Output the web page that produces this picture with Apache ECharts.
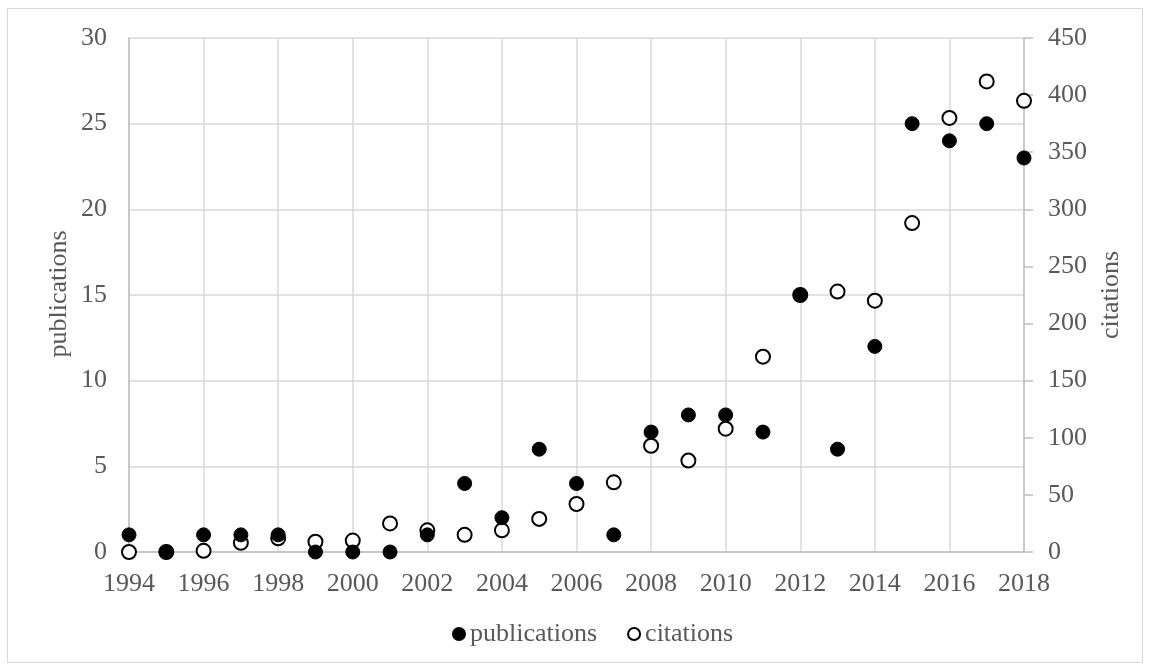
<!DOCTYPE html>
<html>
<head>
<meta charset="utf-8">
<script src="https://cdn.jsdelivr.net/npm/echarts@6/dist/echarts.min.js"></script>
<style>
  html, body { margin: 0; padding: 0; background: #fff; }
  #frame { position: absolute; left: 7px; top: 8px; width: 1136px; height: 655px; border: 1px solid #d9d9d9; box-sizing: border-box; }
  #chart { width: 1151px; height: 671px; }
</style>
</head>
<body>
<div id="frame"></div>
<div id="chart"></div>
<script>
// ===== Data =====
const years = [1994,1995,1996,1997,1998,1999,2000,2001,2002,2003,2004,2005,2006,
               2007,2008,2009,2010,2011,2012,2013,2014,2015,2016,2017,2018];
const publications = [1,0,1,1,1,0,0,0,1,4,2,6,4,1,7,8,8,7,15,6,12,25,24,25,23];
const citations    = [0,0,1,8,12,9,10,25,19,15,19,29,42,61,93,80,108,171,225,228,220,288,380,412,395];

const pairs = (vals) => years.map((y, i) => [y, vals[i]]);

const font = 'Liberation Serif, Times New Roman, serif';
const grey = '#595959';
const fs = 26;

// ===== Chart =====
const chart = echarts.init(document.getElementById('chart'), null, { renderer: 'canvas' });

chart.setOption({
  animation: false,
  textStyle: { fontFamily: font, color: grey },
  grid: { left: 129, right: 127, top: 38, bottom: 119 },
  legend: {
    bottom: 19,
    left: 447,
    itemWidth: 12,
    itemHeight: 12,
    itemGap: 30,
    textStyle: { fontFamily: font, fontSize: fs, color: grey },
    data: ['publications', 'citations']
  },
  // left axis title placed by hand
  graphic: [{
    type: 'text',
    x: 59, y: 294,
    rotation: Math.PI / 2,
    style: { text: 'publications', font: fs + 'px ' + font, fill: grey, align: 'center', verticalAlign: 'middle' }
  }],
  xAxis: {
    type: 'value',
    min: 1994, max: 2018, interval: 2,
    axisLine: { lineStyle: { color: '#bfbfbf', width: 1.5 } },
    axisTick: { show: false },
    axisLabel: { fontSize: fs, color: grey, margin: 19, fontFamily: font, formatter: v => String(v) },
    splitLine: { lineStyle: { color: '#d9d9d9', width: 1.5 } }
  },
  yAxis: [
    {
      type: 'value',
      min: 0, max: 30, interval: 5,
      axisLine: { show: true, lineStyle: { color: '#bfbfbf', width: 1.5 } },
      axisTick: { show: false },
      axisLabel: { fontSize: fs, color: grey, margin: 22, fontFamily: font },
      splitLine: { lineStyle: { color: '#d9d9d9', width: 1.5 } }
    },
    {
      type: 'value',
      name: 'citations',
      nameLocation: 'middle',
      nameGap: 74,
      nameTextStyle: { fontSize: fs, color: grey, fontFamily: font },
      min: 0, max: 450, interval: 50,
      axisLine: { show: true, lineStyle: { color: '#bfbfbf', width: 1.5 } },
      axisTick: { show: true, length: 9, lineStyle: { color: '#bfbfbf', width: 1.5 } },
      axisLabel: { fontSize: fs, color: grey, margin: 24, fontFamily: font },
      splitLine: { show: false }
    }
  ],
  series: [
    {
      name: 'citations',
      type: 'scatter',
      yAxisIndex: 1,
      symbol: 'circle',
      symbolSize: 14,
      z: 2,
      itemStyle: { color: '#ffffff', borderColor: '#000000', borderWidth: 2, opacity: 1 },
      data: pairs(citations)
    },
    {
      name: 'publications',
      type: 'scatter',
      yAxisIndex: 0,
      symbol: 'circle',
      symbolSize: 14,
      z: 3,
      itemStyle: { color: '#000000', borderColor: '#000000', borderWidth: 1, opacity: 1 },
      data: pairs(publications)
    }
  ]
});
</script>
</body>
</html>
